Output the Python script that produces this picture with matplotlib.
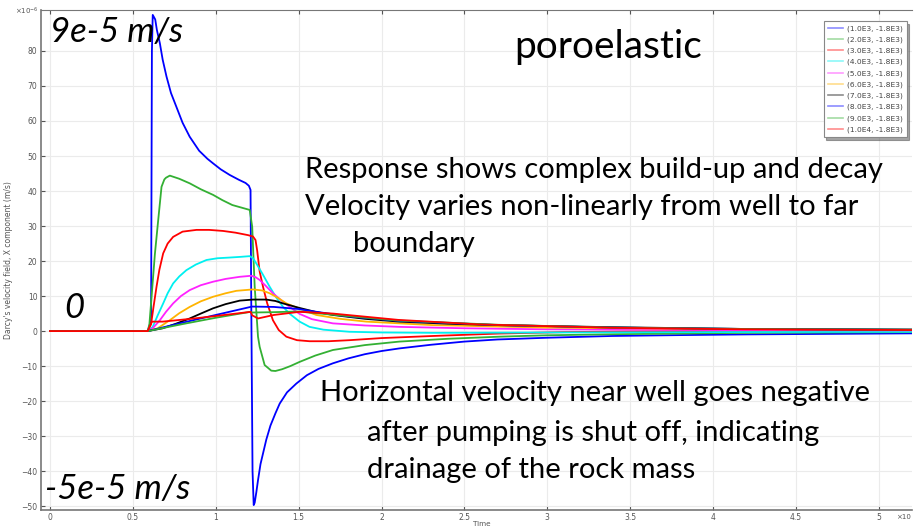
import matplotlib
matplotlib.use("Agg")
import matplotlib.pyplot as plt

# ─── data (time in units of 1e4, velocity in 1e-6 m/s) ────────────────
labels = ["(1.0E3, -1.8E3)", "(2.0E3, -1.8E3)", "(3.0E3, -1.8E3)", "(4.0E3, -1.8E3)",
          "(5.0E3, -1.8E3)", "(6.0E3, -1.8E3)", "(7.0E3, -1.8E3)", "(8.0E3, -1.8E3)",
          "(9.0E3, -1.8E3)", "(1.0E4, -1.8E3)"]
colors = ["#0000ff", "#33b033", "#ff0000", "#00f0f0", "#ff22ff",
          "#ffb400", "#000000", "#0000ff", "#33b033", "#ff0000"]

t1 = [0, 0.59, 0.61, 0.615, 0.62, 0.635, 0.645, 0.663, 0.68, 0.703, 0.73, 0.763, 0.80, 0.843,
      0.9, 0.95, 0.984, 1.03, 1.084, 1.14, 1.18, 1.2, 1.21,
      1.214, 1.222, 1.229, 1.235, 1.245, 1.255, 1.27, 1.29, 1.305, 1.33, 1.36, 1.386, 1.43,
      1.486, 1.55, 1.62, 1.707, 1.8, 1.9, 2.0, 2.108, 2.3, 2.5, 2.7, 3.0, 3.39, 3.8, 4.2,
      4.7, 5.2]
v1 = [0, 0, 3, 80, 90.3, 89, 86, 82.2, 77.5, 72.7, 68, 64, 59.5, 55.5,
      51.5, 49.2, 47.9, 46.2, 44.6, 43.2, 42.3, 41.5, 40.3,
      10, -40, -49.7, -49, -46, -42.6, -38, -34, -31, -27, -23.5, -20.7, -17.5,
      -15, -12.6, -10.8, -9.2, -7.8, -6.6, -5.7, -4.95, -3.9, -3.0, -2.4, -1.9, -1.4, -1.15, -0.95,
      -0.8, -0.65]

t2 = [0, 0.59, 0.60, 0.633, 0.653, 0.673, 0.69, 0.70, 0.723, 0.78, 0.843, 0.91, 0.984, 1.04,
      1.10, 1.16, 1.205, 1.22, 1.235, 1.255, 1.265, 1.295, 1.335, 1.36, 1.40, 1.45, 1.506,
      1.6, 1.707, 1.9, 2.108, 2.4, 2.71, 3.0, 3.4, 4.2, 5.2]
v2 = [0, 0, 2, 22, 31.7, 41.2, 43.3, 43.8, 44.4, 43.5, 42.2, 40.5, 38.9, 37.4,
      36, 35.2, 34.6, 29.8, 12.7, -1.6, -4.5, -9.7, -11.3, -11.4, -10.9, -10, -8.8,
      -7, -5.4, -4, -3.0, -2.2, -1.6, -1.2, -0.9, -0.5, -0.3]

t3 = [0, 0.59, 0.61, 0.625, 0.643, 0.66, 0.683, 0.71, 0.743, 0.80, 0.884, 0.96, 1.044, 1.12,
      1.195, 1.225, 1.24, 1.25, 1.265, 1.285, 1.31, 1.345, 1.38, 1.426, 1.49, 1.566, 1.68,
      1.807, 2.0, 2.31, 2.71, 3.1, 3.5, 4.3, 5.2]
v3 = [0, 0, 2, 7, 12.7, 17.5, 22.2, 25, 26.9, 28.4, 28.9, 28.9, 28.6, 28.1,
      27.4, 27, 26, 23, 17, 12.7, 8, 3.1, 0.3, -1.6, -2.6, -2.9, -2.9,
      -2.6, -2.0, -1.4, -0.7, -0.3, -0.1, 0.1, 0.2]

t4 = [0, 0.59, 0.62, 0.65, 0.683, 0.71, 0.743, 0.78, 0.823, 0.88, 0.944, 1.01, 1.084, 1.15,
      1.205, 1.225, 1.245, 1.28, 1.325, 1.365, 1.406, 1.45, 1.506, 1.566, 1.65, 1.807, 2.0,
      2.31, 3.0, 4.0, 5.2]
v4 = [0, 0, 1.2, 4.5, 7.9, 10.8, 13.6, 15.6, 17.4, 19, 20.3, 20.8, 21.0, 21.2,
      21.4, 20.8, 19.3, 16.5, 12.7, 9.6, 6.9, 4.8, 2.7, 1.2, 0.4, -0.2, -0.4,
      -0.5, -0.4, -0.3, -0.2]

t5 = [0, 0.59, 0.62, 0.663, 0.70, 0.743, 0.79, 0.843, 0.91, 0.984, 1.06, 1.145, 1.215, 1.24,
      1.265, 1.30, 1.345, 1.40, 1.446, 1.506, 1.58, 1.707, 1.9, 2.108, 2.5, 3.0, 4.0, 5.2]
v5 = [0, 0, 0.8, 3.1, 5.5, 7.9, 10, 11.7, 13.1, 14.1, 14.9, 15.5, 15.8, 15.4,
      14.6, 13, 10.8, 8.6, 6.9, 4.9, 3.4, 2.2, 1.6, 1.2, 0.8, 0.5, 0.3, 0.2]

t6 = [0, 0.59, 0.65, 0.723, 0.78, 0.843, 0.91, 0.984, 1.06, 1.125, 1.225, 1.28, 1.325, 1.375,
      1.426, 1.506, 1.607, 1.75, 1.908, 2.31, 3.0, 4.0, 5.2]
v6 = [0, 0, 0.8, 3.1, 5.1, 6.9, 8.5, 9.8, 10.8, 11.5, 11.9, 11.6, 10.8, 9.5,
      7.9, 6.4, 4.6, 3.5, 2.7, 1.7, 1.0, 0.6, 0.4]

t7 = [0, 0.59, 0.68, 0.76, 0.843, 0.91, 0.984, 1.06, 1.145, 1.225, 1.305, 1.36, 1.406, 1.506,
      1.6, 1.707, 1.9, 2.108, 2.4, 2.71, 3.4, 4.2, 5.2]
v7 = [0, 0, 0.8, 2.1, 3.6, 5.0, 6.5, 7.7, 8.7, 9.0, 9.0, 8.6, 7.9, 6.6,
      5.5, 4.6, 3.5, 2.7, 2.1, 1.7, 1.1, 0.6, 0.4]

t8 = [0, 0.59, 0.8, 1.0, 1.21, 1.22, 1.35, 1.5, 1.607, 1.8, 2.108, 2.71, 3.4, 4.2, 5.2]
v8 = [0, 0, 2.4, 4.6, 6.9, 7.0, 6.9, 6.3, 5.5, 4.2, 2.9, 1.7, 1.0, 0.6, 0.4]

t9 = [0, 0.59, 0.8, 1.0, 1.21, 1.22, 1.35, 1.5, 1.7, 2.1, 2.7, 3.4, 4.2, 5.2]
v9 = [0, 0, 2.0, 3.8, 5.5, 5.3, 5.4, 5.6, 4.7, 3.0, 1.8, 1.0, 0.6, 0.4]

t10 = [0, 0.59, 0.615, 0.68, 0.85, 1.0, 1.21, 1.22, 1.255, 1.35, 1.506, 1.707, 2.1,
       2.59, 3.39, 4.2, 5.2]
v10 = [0, 0, 2.7, 2.7, 3.5, 4.3, 5.5, 4.5, 3.6, 4.6, 5.5, 5.0, 3.2,
       1.9, 0.95, 0.5, 0.3]

series = [(t1, v1), (t2, v2), (t3, v3), (t4, v4), (t5, v5),
          (t6, v6), (t7, v7), (t8, v8), (t9, v9), (t10, v10)]

xticks = [0, 0.5, 1, 1.5, 2, 2.5, 3, 3.5, 4, 4.5, 5]
xticklabels = ["0", "0.5", "1", "1.5", "2", "2.5", "3", "3.5", "4", "4.5", "5"]
yticks = list(range(-50, 81, 10))

# ─── figure ──────────────────────────────────────────────────────────
fig = plt.figure(figsize=(9.14, 5.28), dpi=100)
ax = fig.add_axes([41 / 914, 1 - 510 / 528, 871 / 914, 500 / 528])

for (t, v), c, lab in zip(series, colors, labels):
    ax.plot(t, v, color=c, lw=1.3, label=lab)

ax.set_xlim(-0.054, 5.2)
ax.set_ylim(-51.1, 91.7)
ax.set_xticks(xticks)
ax.set_xticklabels(xticklabels)
ax.set_yticks(yticks)
ax.grid(True, color="#ebebeb", lw=0.8)
ax.set_axisbelow(True)
ax.tick_params(labelsize=5.5, colors="#555555", length=3, direction="in",
               top=True, pad=2.5)
for s in ["left", "bottom", "top"]:
    ax.spines[s].set_color("#777777")
ax.spines["left"].set_linewidth(1.2)
ax.spines["bottom"].set_linewidth(1.2)
ax.spines["top"].set_linewidth(0.8)
ax.spines["right"].set_visible(False)

ax.set_ylabel("Darcy's velocity field, X component (m/s)", fontsize=5.5,
              color="#555555", labelpad=6)
fig.text(482 / 914, 1 - 523.5 / 528, "Time", fontsize=5.2, color="#555555",
         ha="center", va="center")
fig.text(15 / 914, 1 - 11 / 528, "×10$^{-6}$", fontsize=5, color="#555555",
         va="center")
fig.text(896 / 914, 1 - 517 / 528, "×10", fontsize=5, color="#555555", va="center")

leg = ax.legend(loc="upper right", bbox_to_anchor=(0.998, 0.986), fontsize=5.4,
                frameon=True, fancybox=False, shadow=True, handlelength=2.0,
                labelspacing=0.6, borderpad=0.55, handletextpad=0.5)
leg.get_frame().set_edgecolor("#888888")
leg.get_frame().set_linewidth(0.8)
for txt in leg.get_texts():
    txt.set_color("#444444")
for h in leg.get_lines():
    h.set_alpha(0.45)
    h.set_linewidth(1.2)

# ─── annotations ────────────────────────────────────────────────────
big = dict(family=["Lato", "DejaVu Sans"], color="black")
fig.text(50 / 914, 1 - 32 / 528, "9e-5 m/s", fontsize=25, style="italic", va="center", **big)
fig.text(608 / 914, 1 - 47 / 528, "poroelastic", fontsize=28, ha="center", va="center", **big)
fig.text(64 / 914, 1 - 308 / 528, "0", fontsize=25, style="italic", va="center", **big)
fig.text(45 / 914, 1 - 489 / 528, "-5e-5 m/s", fontsize=25, style="italic", va="center", **big)

fs = 21
fig.text(305 / 914, 1 - 170 / 528, "Response shows complex build-up and decay", fontsize=fs,
         va="center", **big)
fig.text(305 / 914, 1 - 207 / 528, "Velocity varies non-linearly from well to far", fontsize=fs,
         va="center", **big)
fig.text(353 / 914, 1 - 244 / 528, "boundary", fontsize=fs, va="center", **big)
fig.text(320 / 914, 1 - 393 / 528, "Horizontal velocity near well goes negative", fontsize=fs,
         va="center", **big)
fig.text(367 / 914, 1 - 433 / 528, "after pumping is shut off, indicating", fontsize=fs,
         va="center", **big)
fig.text(367 / 914, 1 - 470 / 528, "drainage of the rock mass", fontsize=fs,
         va="center", **big)

fig.savefig("out.png", dpi=100)
